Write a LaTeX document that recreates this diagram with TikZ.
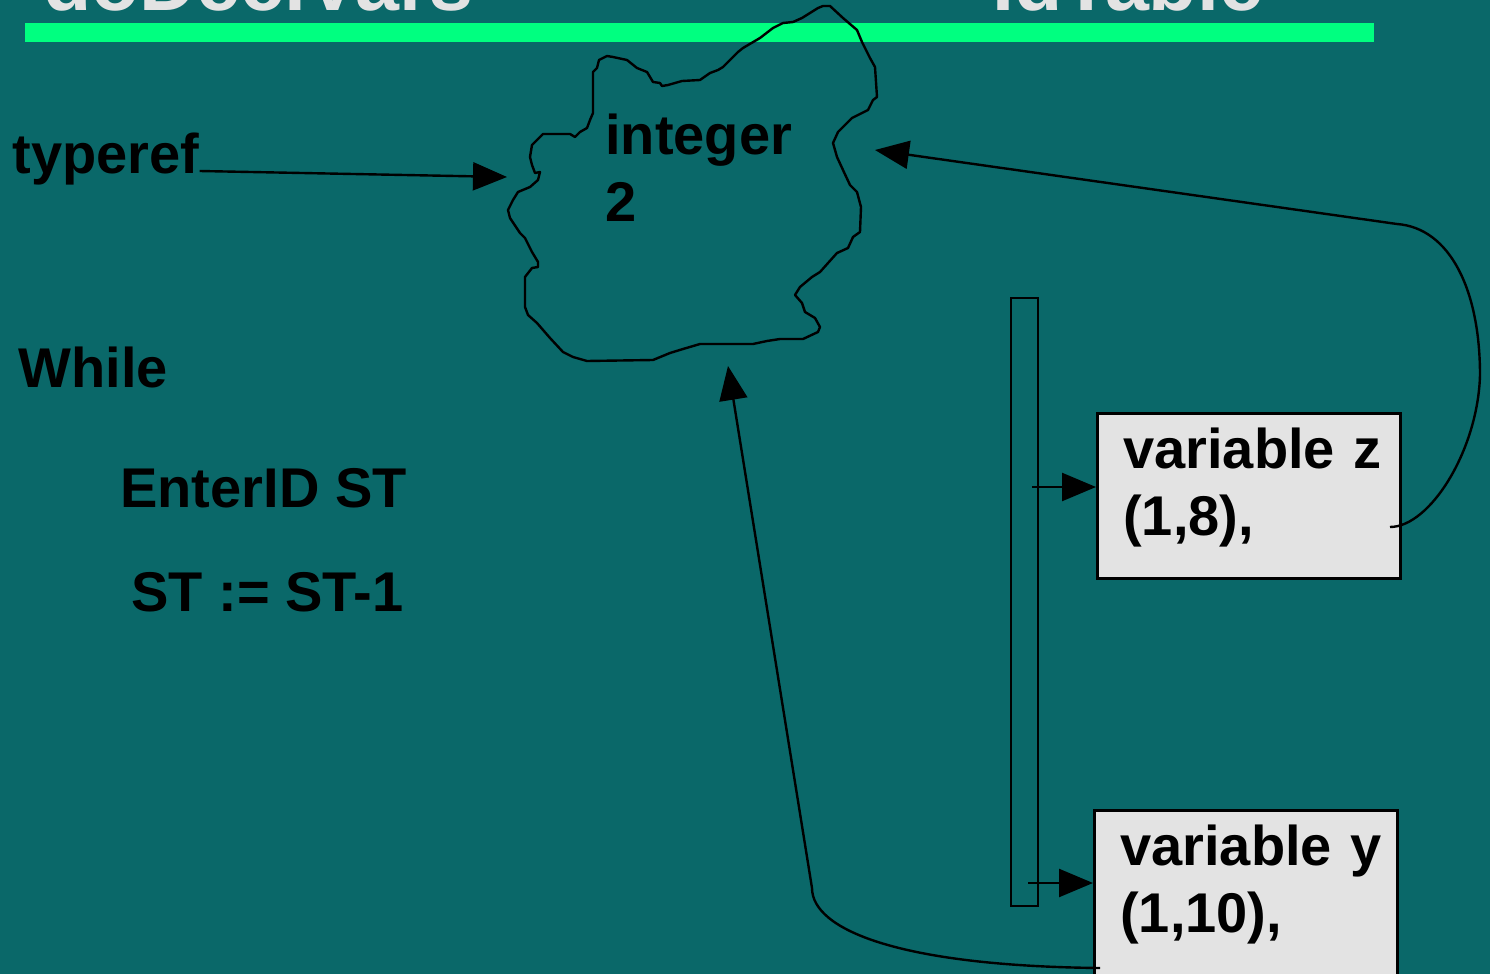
\documentclass[tikz,border=0pt]{standalone}
\usepackage{fontspec}
\setmainfont{Liberation Sans}
\usetikzlibrary{arrows.meta}

\definecolor{slidebg}{HTML}{0A6869}
\definecolor{rulegreen}{HTML}{00FF80}
\definecolor{boxgray}{HTML}{E3E3E3}

\tikzset{
    txt/.style={anchor=base west,inner sep=0pt,font=\fontsize{28}{33.5}\selectfont\bfseries},
    headline/.style={anchor=base west,inner sep=0pt,text=boxgray,font=\fontsize{39.5}{44}\selectfont\bfseries},
    pointer/.style={line width=1.2pt,-{Triangle[length=17pt,width=14pt]}},
    entry/.style={draw,line width=1.3pt,fill=boxgray,anchor=north west,inner xsep=13pt,inner ysep=0pt,
        text width=125.5pt,text height=27.5pt,text depth=55pt,align=left,
        font=\fontsize{28}{33.5}\selectfont\bfseries}
}

\begin{document}
\begin{tikzpicture}[x=0.5pt,y=-0.5pt]
    \useasboundingbox (0,0) rectangle (1490,974);
    \fill[slidebg] (0,0) rectangle (1490,974);
    \clip (0,0) rectangle (1490,974);

    \node[headline] (declvars) at (43,11) {doDeclVars};
    \node[headline] (idtable) at (992,11) {IdTable};
    \fill[rulegreen] (25,23) rectangle (1374,42);

    \draw[line width=1.2pt,line join=round]
        (830,6) -- (823,6) -- (818,8) -- (802,18) -- (793,22) -- (783,23) -- (773,28) -- (760,38)
        -- (743,48) -- (738,52) -- (723,67) -- (718,70) -- (710,73) -- (700,80) -- (682,81) -- (668,85)
        -- (662,86) -- (660,83) -- (653,82) -- (647,72) -- (637,68) -- (627,60) -- (613,57) -- (607,56)
        -- (599,60) -- (597,68) -- (593,72) -- (593,113) -- (590,120) -- (587,128) -- (580,132) -- (575,137)
        -- (570,134) -- (543,134) -- (537,140) -- (532,145) -- (530,157) -- (532,165) -- (535,173) -- (540,172)
        -- (538,180) -- (530,187) -- (518,192) -- (513,200) -- (508,210) -- (510,218) -- (520,233) -- (525,238)
        -- (532,252) -- (538,262) -- (538,267) -- (532,268) -- (525,277) -- (525,307) -- (528,315) -- (537,323)
        -- (550,338) -- (563,352) -- (573,357) -- (587,361) -- (653,360) -- (670,353) -- (683,349) -- (700,344)
        -- (753,344) -- (767,341) -- (780,339) -- (803,339) -- (818,332) -- (820,327) -- (815,318) -- (805,312)
        -- (802,303) -- (795,295) -- (800,287) -- (812,277) -- (820,272) -- (837,253) -- (848,248) -- (853,237)
        -- (860,232) -- (861,207) -- (857,192) -- (850,185) -- (843,170) -- (837,157) -- (833,143) -- (838,132)
        -- (852,118) -- (868,110) -- (873,100) -- (877,97) -- (875,67) -- (870,58) -- (862,42) -- (857,30)
        -- (843,18) -- cycle;
    \node[txt,text width=100pt,align=left] (inttype) at (605,155) {integer\\2};
    \coordinate (cloudW) at (507,177);
    \coordinate (cloudE) at (875,150);
    \coordinate (cloudS) at (728,366);

    \node[txt] (typeref) at (12,174) {typeref};
    \node[txt] (while) at (18,387) {While};
    \node[txt] (enterid) at (120,507) {EnterID ST};
    \node[txt] (decst) at (131,611) {ST := ST-1};

    \node[draw,line width=1pt,anchor=north west,inner sep=0pt,minimum width=13.5pt,minimum height=304pt] (idbar) at (1010,297) {};
    \node[entry] (varz) at (1096,412) {\mbox{variable z}\\(1,8),};
    \node[entry] (vary) at (1093,809) {\mbox{variable y}\\(1,10),};

    \coordinate (zslot) at (1032,487);
    \coordinate (yslot) at (1028,883);
    \coordinate (zlink) at (1390,527);
    \coordinate (ylink) at (1100,968);

    \draw[pointer] ([yshift=1.5pt]typeref.base east) -- (cloudW);
    \draw[pointer] (zslot) -- (zslot -| varz.west);
    \draw[pointer] (yslot) -- (yslot -| vary.west);
    \draw[pointer] (zlink) .. controls (1430,527) and (1478,450) .. (1480,375)
        .. controls (1480,290) and (1450,228) .. (1397,224) -- (cloudE);
    \draw[pointer] (ylink) .. controls (900,966) and (812,930) .. (812,888) -- (cloudS);
\end{tikzpicture}
\end{document}
